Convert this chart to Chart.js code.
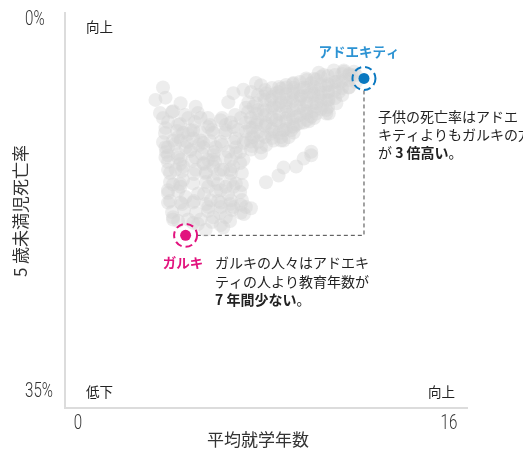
<!DOCTYPE html>
<html>
<head>
<meta charset="utf-8">
<script src="https://cdn.jsdelivr.net/npm/chart.js@4"></script>
<style>
  html, body { margin: 0; padding: 0; background: #fff; }
  #wrap { width: 523px; height: 451px; position: relative; }
</style>
</head>
<body>
<div id="wrap"><canvas id="myChart"></canvas></div>
<script>
// 平均就学年数 (x) と 5 歳未満児死亡率 (y, %)
const cloudYears = [
  3.9, 3.6, 4.0, 4.6, 5.2, 4.3, 3.9, 4.9, 5.4, 4.0, 4.5, 5.0, 4.5, 5.1, 4.1, 4.8, 4.6, 5.5, 5.9, 6.4, 6.6, 6.2, 6.7, 7.2,
  6.5, 6.7, 7.1, 7.3, 7.2, 7.0, 7.4, 7.4, 7.6, 7.8, 7.5, 8.0, 8.5, 8.8,
  6.2, 6.8, 7.2, 7.4, 6.5, 5.9, 5.2, 4.5, 4.1, 5.5, 5.9, 6.4, 6.8, 7.4, 4.1, 4.7, 5.6, 6.2, 6.7, 4.1, 4.6, 5.1, 5.7, 6.2,
  6.7, 7.2, 6.7, 6.2, 5.7, 5.1, 4.6, 4.1, 4.3, 4.9, 5.4, 5.9, 6.4, 7.0, 6.2, 6.6, 4.4, 5.2, 5.9, 6.6, 5.5, 4.8, 5.3, 5.8,
  6.2, 4.7, 5.9, 6.4, 6.8, 7.0, 4.3, 5.6, 6.3, 5.1, 4.3, 4.0, 4.0, 4.6, 5.0, 5.4, 5.7, 6.0, 6.3, 6.6, 6.8, 7.1, 4.3, 4.7,
  5.1, 5.7, 6.4, 7.6, 7.5, 7.8, 7.1,
  7.8, 8.3, 8.3, 8.7, 9.1, 9.5, 7.6, 8.0, 8.4, 8.8, 9.2, 9.6, 10.0, 7.6, 8.0, 8.4, 8.8, 9.2, 9.6, 10.0, 10.4, 10.8, 7.6, 7.9,
  8.2, 8.6, 9.0, 9.4, 9.8, 10.1, 10.5, 10.9, 10.1, 10.5, 8.4, 9.1, 9.1, 9.5, 9.8, 10.0, 10.5, 10.9, 11.3, 11.3, 10.3, 10.7,
  11.1, 11.4, 8.6, 9.0, 9.8, 10.5, 8.0, 7.8, 8.7, 9.1, 10.1, 9.6, 9.1, 8.6, 10.8, 10.4, 9.9, 9.4, 8.8, 8.3, 7.9, 10.4,
  10.0, 9.5, 8.9, 8.4, 8.0, 9.7, 9.2, 8.7, 8.2, 10.4, 8.9, 8.6, 11.5, 11.1,
  8.0, 8.5, 8.7, 9.2, 9.5, 9.8, 9.8, 7.4,
  // 帯の密集部
  7.44, 7.44, 7.44, 7.68, 7.68, 7.68, 7.68, 7.68, 7.96, 7.96, 7.96, 7.96, 7.96,
  8.24, 8.24, 8.24, 8.24, 8.24, 8.24, 8.52, 8.52, 8.52, 8.52, 8.52, 8.52,
  8.80, 8.80, 8.80, 8.80, 8.80, 8.80, 9.07, 9.07, 9.07, 9.07, 9.07, 9.07,
  9.35, 9.35, 9.35, 9.35, 9.35, 9.35, 9.63, 9.63, 9.63, 9.63, 9.63, 9.63,
  9.91, 9.91, 9.91, 9.91, 9.91, 9.91, 10.19, 10.19, 10.19, 10.19, 10.19,
  10.47, 10.47, 10.47, 10.47, 10.47, 10.75, 10.75, 10.75, 10.75,
  11.03, 11.03, 11.03, 11.03, 11.30, 11.30, 11.30, 11.58, 11.58,
  // 左下の密集部
  3.78, 4.26, 4.78, 5.29, 5.69,
  4.10, 4.58, 5.17, 5.77, 6.25, 6.77, 7.28,
  3.98, 4.46, 4.90, 5.37, 5.85, 6.37, 6.89, 7.36,
  3.90, 4.38, 4.86, 5.33, 5.77, 6.25, 6.73, 7.20,
  4.02, 4.50, 4.98, 5.45, 5.93, 6.97,
  4.10, 4.58, 5.05, 5.53, 5.97, 6.97,
  4.18, 4.66, 5.13, 5.61, 6.09, 6.57, 7.04,
  4.18, 4.58, 5.61, 6.09, 6.57, 7.04,
  4.10, 4.50, 5.53, 6.01, 6.49, 6.97,
  4.18, 4.66, 5.13, 5.61, 6.09, 6.57, 7.04,
  4.26, 4.74, 5.21, 5.69, 6.17, 6.65, 7.12,
  4.50, 5.29, 5.85, 6.57
];
const cloudMortality = [
  6.6, 7.7, 7.5, 8.0, 8.3, 8.7, 9.3, 9.3, 9.3, 10.2, 9.9, 10.4, 11.0, 11.1, 11.9, 11.9, 11.3, 11.5, 10.6, 9.9, 9.7, 9.5, 10.1, 9.7,
  7.9, 7.1, 6.8, 7.9, 8.4, 9.3, 9.3, 7.0, 6.2, 6.4, 8.3, 7.1, 7.0, 6.6,
  11.4, 11.1, 10.5, 11.4, 12.3, 12.6, 12.8, 12.8, 12.6, 11.9, 13.0, 12.8, 11.9, 12.1, 13.9, 13.6, 14.2, 13.9, 13.6, 15.7, 15.4, 15.1, 15.4, 15.7,
  15.4, 17.2, 17.2, 17.2, 17.2, 16.8, 16.8, 16.8, 18.1, 18.3, 18.3, 18.1, 18.1, 17.7, 18.8, 16.6, 13.9, 13.9, 13.6, 14.2, 13.3, 16.3, 16.0, 16.6,
  16.8, 14.8, 14.8, 15.4, 15.1, 17.0, 18.3, 19.2, 19.0, 18.6, 15.2, 11.9, 12.8, 13.0, 12.1, 11.3, 13.0, 11.9, 13.9, 13.0, 12.4, 11.5, 11.3, 10.6,
  10.4, 10.1, 10.4, 9.7, 11.0, 11.9, 13.0,
  10.8, 11.3, 10.5, 10.4, 10.1, 9.7, 9.9, 9.7, 9.5, 9.3, 9.2, 8.9, 8.9, 8.9, 8.6, 8.4, 8.3, 8.2, 7.9, 8.0, 8.6, 8.0, 8.0, 7.4,
  7.7, 7.9, 7.5, 7.3, 7.0, 6.8, 7.0, 7.0, 7.4, 7.7, 7.1, 6.6, 7.1, 6.6, 6.2, 5.9, 6.4, 6.2, 6.6, 5.5, 5.5, 5.1,
  5.2, 5.5, 11.0, 10.4, 9.2, 8.9, 11.7, 12.4, 11.3, 10.6, 5.3, 5.8, 6.2, 6.7, 6.1, 6.5, 7.1, 7.4, 7.7, 8.2, 8.6, 7.7,
  8.3, 8.6, 9.0, 9.5, 9.8, 9.6, 9.9, 10.4, 10.7, 8.9, 11.0, 11.3, 5.2, 5.1,
  15.0, 14.4, 13.7, 13.6, 12.9, 12.6, 12.3, 17.3,
  // 帯の密集部
  10.19, 10.99, 11.78, 7.27, 8.59, 9.48, 10.54, 11.43, 6.82, 7.71, 9.04, 10.01, 10.99,
  6.65, 7.44, 8.42, 9.30, 10.28, 11.08, 6.56, 7.35, 8.15, 8.95, 9.75, 10.63,
  6.38, 7.18, 7.97, 8.77, 9.57, 10.28, 6.29, 7.00, 7.80, 8.59, 9.30, 10.01,
  6.11, 6.82, 7.62, 8.33, 9.04, 9.75, 5.94, 6.65, 7.35, 8.06, 8.77, 9.48,
  5.85, 6.56, 7.27, 7.97, 8.68, 9.30, 5.67, 6.38, 7.09, 7.80, 8.51,
  5.58, 6.29, 7.00, 7.71, 8.33, 5.49, 6.11, 6.82, 7.53,
  5.40, 6.03, 6.65, 7.27, 5.40, 5.94, 6.56, 5.49, 6.11,
  // 左下の密集部
  8.86, 8.77, 9.04, 8.86, 9.30,
  9.66, 9.84, 9.66, 9.92, 9.30, 9.04, 8.77,
  10.63, 10.46, 10.72, 10.54, 10.37, 10.63, 10.37, 10.19,
  11.43, 11.61, 11.43, 11.70, 11.34, 11.70, 11.43, 11.25,
  12.32, 12.49, 12.23, 12.49, 12.32, 12.32,
  13.20, 13.38, 13.11, 13.38, 13.20, 13.29,
  14.18, 14.00, 14.27, 14.09, 14.27, 13.91, 14.18,
  14.97, 15.15, 14.97, 15.15, 14.89, 15.24,
  15.95, 15.77, 16.04, 15.77, 16.04, 15.86,
  16.66, 16.92, 16.66, 16.92, 16.66, 16.92, 16.57,
  17.63, 17.46, 17.72, 17.54, 17.72, 17.46, 17.81,
  18.43, 18.70, 18.52, 18.43
];

const countries = ['アドエキティ', 'ガルキ'];
const countryYears = [11.9, 4.8];
const countryMortality = [5.8, 19.7];
const countryColors = ['#0a78c0', '#e2137e'];
const labelColors = ['#2d93d3', '#e2137e'];

const xTickLabels = ['0', '16'];
const yTickLabels = ['0%', '35%'];

const FONT = "'Noto Sans CJK JP', 'Noto Sans', sans-serif";

function condensedText(c, text, x, y, align, sx) {
  c.save();
  c.translate(x, y);
  c.scale(sx, 1);
  c.textAlign = align;
  c.fillText(text, 0, 0);
  c.restore();
}

function drawRuns(c, runs, x, y) {
  let cx = x;
  runs.forEach(function (run) {
    c.font = (run[1] ? 'bold ' : '') + '14px ' + FONT;
    c.fillText(run[0], cx, y);
    cx += c.measureText(run[0]).width;
  });
}

const decorations = {
  id: 'decorations',
  beforeDatasetsDraw(chart) {
    const c = chart.ctx;
    const xs = chart.scales.x, ys = chart.scales.y;
    const ax = xs.getPixelForValue(countryYears[0]), ay = ys.getPixelForValue(countryMortality[0]);
    const gx = xs.getPixelForValue(countryYears[1]), gy = ys.getPixelForValue(countryMortality[1]);
    c.save();
    c.strokeStyle = '#444';
    c.lineWidth = 1;
    c.setLineDash([4, 3]);
    c.beginPath();
    c.moveTo(ax, ay + 12);
    c.lineTo(ax, gy);
    c.lineTo(gx + 12, gy);
    c.stroke();
    c.restore();
  },
  afterDraw(chart) {
    const c = chart.ctx;
    const xs = chart.scales.x, ys = chart.scales.y;
    const area = chart.chartArea;
    c.save();

    // 強調点の破線リング
    countries.forEach(function (name, i) {
      const px = xs.getPixelForValue(countryYears[i]);
      const py = ys.getPixelForValue(countryMortality[i]);
      c.strokeStyle = countryColors[i];
      c.lineWidth = 2;
      c.setLineDash([7, 4]);
      c.beginPath();
      c.arc(px, py, 11.5, 0, Math.PI * 2);
      c.stroke();
    });
    c.setLineDash([]);

    // 目盛りラベル
    c.fillStyle = '#333';
    c.textBaseline = 'middle';
    c.font = '300 21px Roboto, ' + FONT;
    condensedText(c, yTickLabels[0], 25, ys.getPixelForValue(0) + 7, 'left', 0.72);
    condensedText(c, yTickLabels[1], 25, ys.getPixelForValue(35) - 16, 'left', 0.72);
    condensedText(c, xTickLabels[0], xs.getPixelForValue(0) + 13, area.bottom + 16, 'center', 0.72);
    condensedText(c, xTickLabels[1], xs.getPixelForValue(16) - 18, area.bottom + 16, 'center', 0.72);

    // 軸タイトル
    c.font = '17px ' + FONT;
    c.textAlign = 'center';
    c.fillText('平均就学年数', 258, 440);
    c.save();
    c.translate(21, 211);
    c.rotate(-Math.PI / 2);
    c.fillText('5 歳未満児死亡率', 0, 0);
    c.restore();

    // 四隅の表示
    c.font = '13.5px ' + FONT;
    c.fillStyle = '#222';
    c.textAlign = 'left';
    c.fillText('向上', 86, 27);
    c.fillText('低下', 86, 392);
    c.textAlign = 'right';
    c.fillText('向上', 455, 392);

    // 国名
    c.font = 'bold 13.5px ' + FONT;
    c.textAlign = 'center';
    c.fillStyle = labelColors[0];
    c.fillText(countries[0], xs.getPixelForValue(countryYears[0]) - 5, 52);
    c.fillStyle = labelColors[1];
    c.fillText(countries[1], 183, 263);

    // 注釈
    c.fillStyle = '#222';
    c.textAlign = 'left';
    drawRuns(c, [['子供の死亡率はアドエ', false]], 378, 117);
    drawRuns(c, [['キティよりもガルキの方', false]], 378, 135);
    drawRuns(c, [['が ', false], ['3 倍高い', true], ['。', false]], 378, 153);
    drawRuns(c, [['ガルキの人々はアドエキ', false]], 215, 263);
    drawRuns(c, [['ティの人より教育年数が', false]], 215, 282);
    drawRuns(c, [['7 年間少ない', true], ['。', false]], 215, 300);

    c.restore();
  }
};

new Chart(document.getElementById('myChart'), {
  type: 'scatter',
  data: {
    datasets: [
      {
        label: countries.join(' / '),
        data: countries.map((n, i) => ({ x: countryYears[i], y: countryMortality[i] })),
        backgroundColor: countryColors,
        borderWidth: 0,
        pointRadius: 5.5,
        order: 0
      },
      {
        label: 'その他の国',
        data: cloudYears.map((v, i) => ({ x: v, y: cloudMortality[i] })),
        backgroundColor: 'rgba(212,212,212,0.42)',
        borderWidth: 0,
        pointRadius: 7,
        order: 1
      }
    ]
  },
  options: {
    responsive: true,
    maintainAspectRatio: false,
    animation: false,
    layout: { padding: { left: 65, right: 56, top: 13, bottom: 43 } },
    plugins: { legend: { display: false }, tooltip: { enabled: false } },
    scales: {
      x: {
        type: 'linear', min: 0, max: 16,
        grid: { display: false, drawTicks: false },
        border: { display: true, color: '#dcdcdc', width: 2 },
        ticks: { display: false }
      },
      y: {
        type: 'linear', min: 0, max: 35, reverse: true,
        grid: { display: false, drawTicks: false },
        border: { display: true, color: '#dcdcdc', width: 2 },
        ticks: { display: false }
      }
    }
  },
  plugins: [decorations]
});
</script>
</body>
</html>
